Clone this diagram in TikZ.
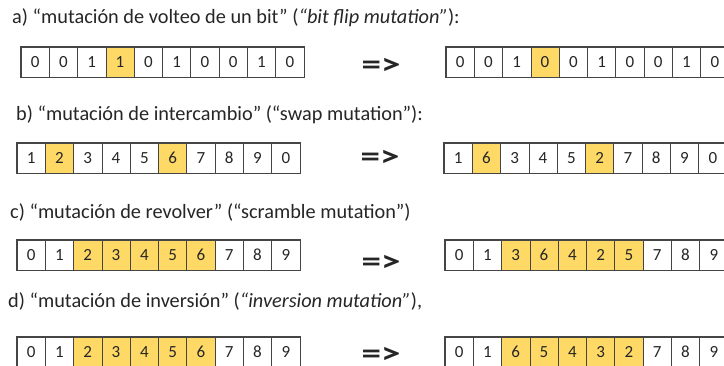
\documentclass[tikz,border=0pt]{standalone}
\usepackage{fontspec}
\setmainfont{Carlito}
\definecolor{gold}{HTML}{FFD966}
\definecolor{ink}{HTML}{262626}
\definecolor{rule}{HTML}{454545}

\tikzset{
  cellbox/.style={draw=rule, line width=0.8pt, minimum width=28.3pt,
    minimum height=30pt, inner sep=0pt, text=ink,
    font=\fontsize{17}{20}\selectfont},
  title/.style={anchor=base west, inner sep=0pt, text=ink,
    font=\fontsize{20.3}{24}\selectfont},
  implies/.style={anchor=center, inner sep=0pt, text=ink, xscale=1.3,
    font=\fontsize{30}{34}\selectfont\bfseries},
  frame/.style={draw=rule, line width=1pt},
}

% One chromosome: name prefix, left x, top y, list of value/fill pairs
\newcommand\cellrow[4]{%
  \foreach \v/\f [count=\i] in {#4} {
    \node[cellbox, fill=\f] (#1\i) at ({#2+(\i-0.5)*28.3}, {#3+15}) {\v};
  }
  \draw[frame] (#11.north west) rectangle (#110.south east);
}

\begin{document}
\begin{tikzpicture}[x=1pt, y=-1pt]
  \clip (0,0) rectangle (724,366);
  \fill[white] (0,0) rectangle (724,366);

  % a) bit flip
  \node[title] (ta) at (12,24) {a) “mutación de volteo de un bit” (\textit{“bit flip mutation”}):};
  \cellrow{al-}{21}{47}{0/white,0/white,1/white,1/gold,0/white,1/white,0/white,0/white,1/white,0/white}
  \node[implies] (ia) at (381,66) {=>};
  \cellrow{ar-}{446}{47}{0/white,0/white,1/white,0/gold,0/white,1/white,0/white,0/white,1/white,0/white}

  % b) swap
  \node[title] (tb) at (16,121) {b) “mutación de intercambio” (“swap mutation”):};
  \cellrow{bl-}{17}{143}{1/white,2/gold,3/white,4/white,5/white,6/gold,7/white,8/white,9/white,0/white}
  \node[implies] (ib) at (380,158) {=>};
  \cellrow{br-}{444}{143}{1/white,6/gold,3/white,4/white,5/white,2/gold,7/white,8/white,9/white,0/white}

  % c) scramble
  \node[title] (tc) at (10,219) {c) “mutación de revolver” (“scramble mutation”)};
  \cellrow{cl-}{17}{240}{0/white,1/white,2/gold,3/gold,4/gold,5/gold,6/gold,7/white,8/white,9/white}
  \node[implies] (ic) at (381,263) {=>};
  \cellrow{cr-}{445}{240}{0/white,1/white,3/gold,6/gold,4/gold,2/gold,5/gold,7/white,8/white,9/white}

  % d) inversion
  \node[title] (td) at (8,308) {d) “mutación de inversión” (\textit{“inversion mutation”}),};
  \cellrow{dl-}{17}{337}{0/white,1/white,2/gold,3/gold,4/gold,5/gold,6/gold,7/white,8/white,9/white}
  \node[implies] (id) at (381,355) {=>};
  \cellrow{dr-}{445}{337}{0/white,1/white,6/gold,5/gold,4/gold,3/gold,2/gold,7/white,8/white,9/white}
\end{tikzpicture}
\end{document}
